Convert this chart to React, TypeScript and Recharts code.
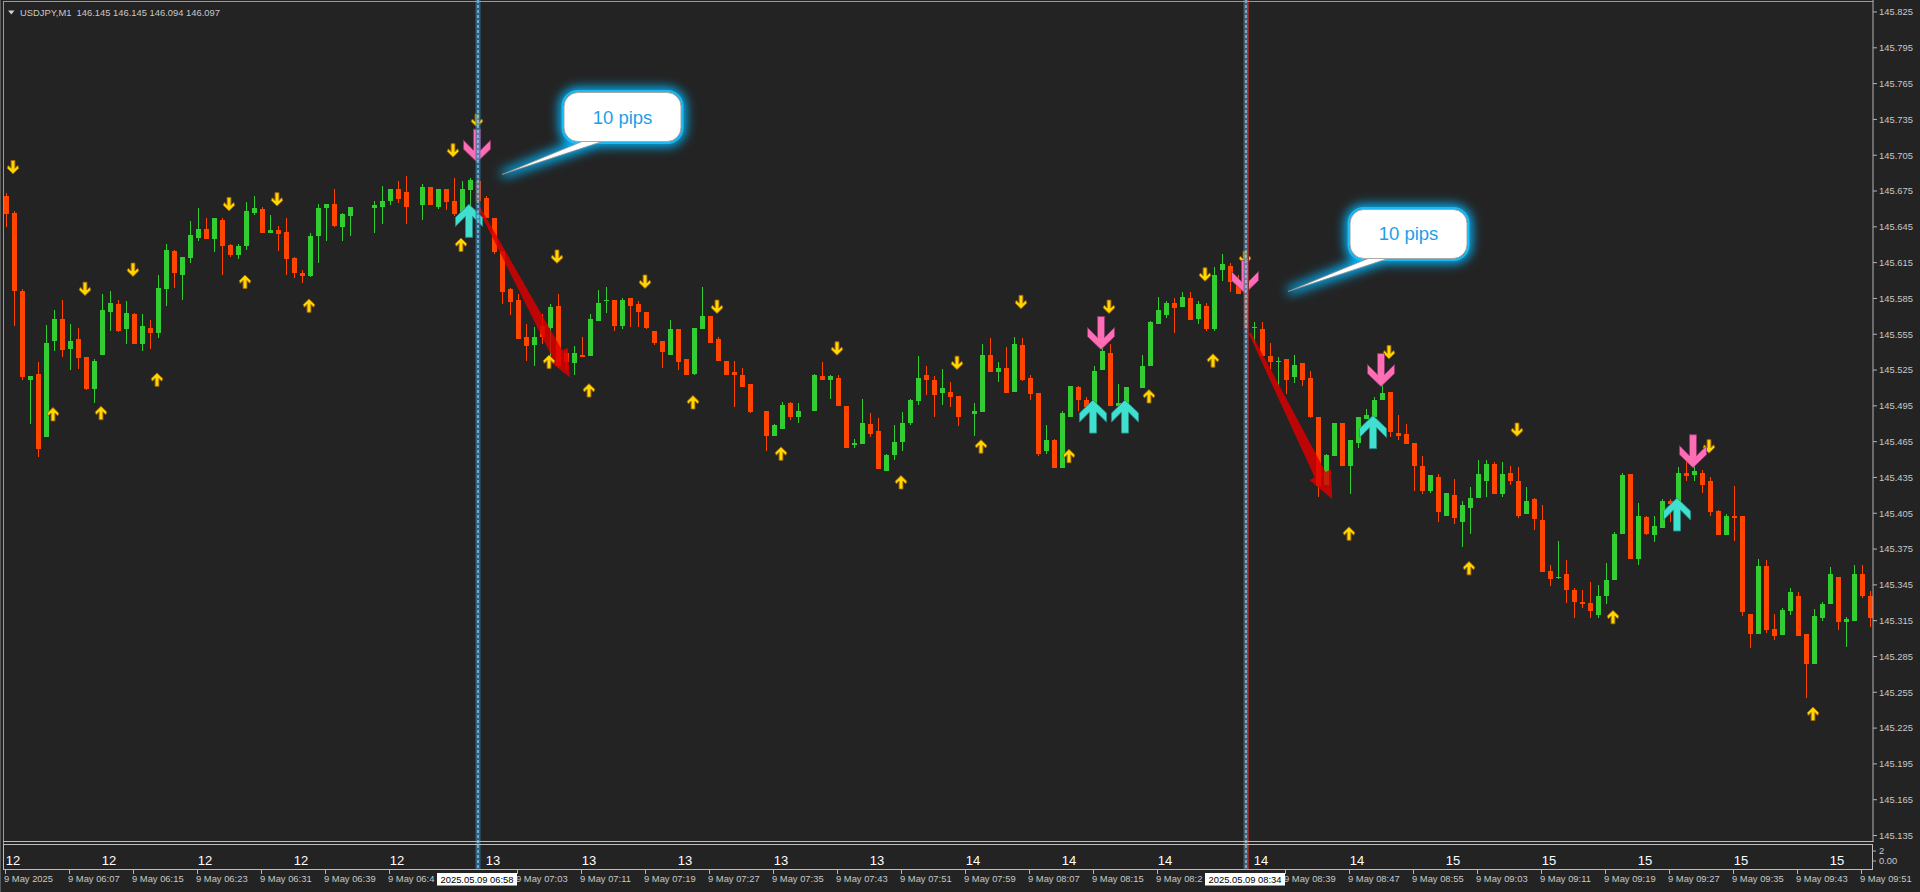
import React from 'react';
import { ComposedChart, Bar, XAxis, YAxis, Scatter, ReferenceLine } from 'recharts';

const FONT = '"Liberation Sans", Arial, sans-serif';
const NARROW = '"Liberation Sans Narrow", "Liberation Sans", Arial, sans-serif';
const BG = '#232323';
const BULL = '#32CD32';
const BEAR = '#FF4500';
const AXIS = '#b4b4b4';
const TXT = '#c8c8c8';

const HEADER_SYMBOL = 'USDJPY,M1';
const HEADER_PRICES = '146.145 146.145 146.094 146.097';

// one-minute bars, 9 May 2025 05:59 .. 09:52
const FIRST_MINUTE = 5 * 60 + 59;
const BAR_COUNT = 234;
const times: string[] = Array.from({ length: BAR_COUNT }, (_, k) => {
  const m = FIRST_MINUTE + k;
  return String(Math.floor(m / 60)).padStart(2, '0') + ':' + String(m % 60).padStart(2, '0');
});

const opens: (number | null)[] = [
  145.671,145.657,145.591,145.517,145.522,145.469,145.549,145.568,145.543,145.551,
  145.536,145.509,145.538,145.574,145.580,145.559,145.572,145.547,145.560,145.556,
  145.593,145.625,145.605,145.619,145.636,145.643,145.635,145.651,145.630,145.621,
  145.629,145.657,145.660,145.640,145.642,145.641,145.619,145.606,145.604,145.637,
  145.661,145.664,145.645,145.654,null,null,145.661,145.662,145.667,145.677,
  145.674,null,145.663,145.678,145.662,145.677,145.667,145.656,145.676,145.683,
  145.669,145.652,145.625,145.593,145.584,145.553,145.546,145.562,145.560,145.579,
  145.539,145.531,145.538,145.537,145.566,145.583,145.584,145.562,145.585,145.580,
  145.574,145.558,145.549,145.538,145.559,145.534,145.522,145.559,145.570,145.551,
  145.533,145.523,145.521,145.513,null,145.491,145.470,145.476,145.497,145.486,
  null,145.491,145.520,145.517,145.518,145.495,145.462,145.463,145.480,145.474,
  145.440,145.454,145.465,145.481,145.499,145.521,145.517,145.506,145.507,145.503,
  null,145.488,145.490,145.538,145.523,145.527,145.507,145.546,145.518,145.506,
  145.457,145.466,145.443,145.486,145.511,145.500,145.494,145.525,145.539,145.495,
  145.496,null,145.510,145.528,145.564,145.571,145.581,145.578,145.585,145.568,
  145.579,145.559,145.609,145.612,145.600,145.590,145.560,145.559,145.537,145.532,
  145.534,145.519,145.531,145.518,145.486,145.429,145.453,145.481,145.445,145.464,
  145.484,145.486,145.500,145.507,145.472,145.471,145.464,145.445,145.424,145.435,
  145.403,145.420,145.398,145.409,145.418,145.432,145.446,145.421,145.439,145.432,
  145.404,145.417,145.399,145.357,145.351,145.354,145.341,145.331,145.330,145.320,
  145.336,145.349,145.388,145.438,145.367,145.402,145.387,145.393,145.415,145.413,
  145.439,145.437,145.439,145.432,145.407,145.387,145.403,145.403,145.321,145.304,
  145.361,145.308,145.303,145.323,145.336,145.304,145.279,145.317,145.329,145.352,
  145.314,145.315,145.354,145.336,
];

const highs: (number | null)[] = [
  145.673,145.658,145.593,145.520,145.532,145.563,145.575,145.584,145.564,145.560,
  145.536,145.534,145.589,145.591,145.584,145.583,145.573,145.572,145.567,145.605,
  145.631,145.626,145.620,145.650,145.661,145.652,145.652,145.652,145.631,145.631,
  145.666,145.671,145.662,145.655,145.646,145.652,145.620,145.609,145.640,145.664,
  145.664,145.677,145.657,145.662,null,null,145.667,145.679,145.677,145.683,
  145.688,null,145.681,145.678,145.677,145.677,145.686,145.683,145.686,145.686,
  145.671,145.652,145.625,145.594,145.589,145.564,145.561,145.572,145.580,145.589,
  145.542,145.545,145.553,145.572,145.592,145.595,145.584,145.585,145.585,145.583,
  145.574,145.558,145.549,145.567,145.559,145.534,145.560,145.595,145.570,145.553,
  145.533,145.533,145.527,145.513,null,145.491,145.480,145.498,145.498,145.497,
  null,145.522,145.532,145.521,145.521,145.495,145.467,145.501,145.489,145.485,
  145.455,145.479,145.490,145.501,145.537,145.528,145.520,145.526,145.515,145.503,
  null,145.497,145.547,145.552,145.532,145.544,145.553,145.552,145.521,145.506,
  145.479,145.467,145.491,145.512,145.512,145.502,145.528,145.548,145.547,145.513,
  145.511,null,145.538,145.566,145.586,145.583,145.585,145.590,145.590,145.583,
  145.581,145.611,145.622,145.615,145.605,145.592,145.565,145.565,145.548,145.536,
  145.534,145.538,145.531,145.524,145.486,145.455,145.481,145.481,145.466,145.486,
  145.492,145.502,145.517,145.507,145.487,145.480,145.464,145.453,145.437,145.438,
  145.422,145.434,145.415,145.427,145.450,145.450,145.448,145.448,145.445,145.444,
  145.427,145.418,145.412,145.362,145.382,145.366,145.342,145.341,145.347,145.345,
  145.363,145.389,145.439,145.438,145.414,145.403,145.403,145.417,145.417,145.444,
  145.449,145.449,145.441,145.435,145.408,145.404,145.428,145.403,145.321,145.367,
  145.366,145.321,145.326,145.342,145.339,145.304,145.325,145.331,145.360,145.352,
  145.318,145.362,145.362,145.340,
];

const lows: (number | null)[] = [
  145.645,145.562,145.517,145.480,145.452,145.469,145.541,145.536,145.525,145.526,
  145.508,145.497,145.538,145.558,145.557,145.547,145.547,145.541,145.543,145.552,
  145.579,145.594,145.584,145.615,145.633,145.635,145.624,145.605,145.620,145.618,
  145.626,145.655,145.640,145.640,145.625,145.605,145.602,145.598,145.603,145.615,
  145.633,145.645,145.633,145.637,null,null,145.640,145.647,145.663,145.665,
  145.647,null,145.651,145.663,145.660,145.659,145.654,145.654,145.657,145.665,
  145.652,145.622,145.580,145.571,145.551,145.533,145.528,145.547,145.528,145.527,
  145.525,145.521,145.536,145.537,145.566,145.573,145.558,145.559,145.561,145.561,
  145.559,145.546,145.527,145.538,145.525,145.521,145.521,145.559,145.548,145.533,
  145.521,145.494,145.511,145.489,null,145.457,145.470,145.476,145.483,145.481,
  null,145.491,145.517,145.501,145.495,145.460,145.460,145.463,145.469,145.442,
  145.440,145.450,145.457,145.479,145.496,145.504,145.486,145.496,145.494,145.478,
  null,145.470,145.490,145.523,145.515,145.506,145.507,145.516,145.500,145.453,
  145.455,145.443,145.443,145.486,145.491,145.493,145.494,145.525,145.495,145.495,
  145.496,null,145.510,145.528,145.564,145.569,145.556,145.578,145.567,145.564,
  145.558,145.558,145.600,145.590,145.589,145.559,145.548,145.537,145.526,145.512,
  145.505,145.514,145.512,145.485,145.419,145.429,145.453,145.445,145.421,145.460,
  145.484,145.480,145.500,145.469,145.466,145.463,145.424,145.421,145.422,145.398,
  145.403,145.396,145.377,145.388,145.418,145.419,145.421,145.419,145.429,145.401,
  145.404,145.391,145.356,145.344,145.350,145.330,145.317,145.326,145.317,145.317,
  145.329,145.349,145.388,145.367,145.362,145.387,145.381,145.393,145.398,145.413,
  145.432,145.432,145.422,145.403,145.387,145.387,145.382,145.319,145.292,145.304,
  145.305,145.299,145.303,145.320,145.302,145.250,145.279,145.315,145.329,145.307,
  145.293,145.315,145.334,145.310,
];

const closes: (number | null)[] = [
  145.656,145.591,145.519,145.520,145.459,145.548,145.568,145.542,145.549,145.535,
  145.509,145.533,145.575,145.581,145.558,145.573,145.547,145.562,145.556,145.594,
  145.626,145.606,145.620,145.638,145.643,145.635,145.652,145.629,145.621,145.629,
  145.658,145.661,145.640,145.642,145.639,145.618,145.606,145.604,145.637,145.661,
  145.664,145.646,145.656,145.662,null,null,145.663,145.667,145.677,145.668,
  145.662,null,145.678,145.663,145.677,145.666,145.656,145.677,145.684,145.667,
  145.652,145.624,145.590,145.582,145.551,145.545,145.553,145.553,145.578,145.528,
  145.532,145.539,145.536,145.568,145.581,145.584,145.562,145.584,145.579,145.574,
  145.560,145.548,145.540,145.559,145.532,145.521,145.560,145.570,145.548,145.533,
  145.521,145.521,145.511,145.490,null,145.470,145.479,145.496,145.486,145.491,
  null,145.521,145.517,145.520,145.495,145.460,145.464,145.481,145.471,145.442,
  145.454,145.465,145.481,145.500,145.518,145.517,145.504,145.510,145.502,145.486,
  null,145.491,145.538,145.523,145.527,145.506,145.547,145.517,145.505,145.455,
  145.466,145.443,145.489,145.512,145.500,145.494,145.524,145.541,145.495,145.497,
  145.511,null,145.528,145.565,145.575,145.581,145.577,145.586,145.567,145.580,
  145.559,145.605,145.614,145.599,145.589,145.560,145.561,145.537,145.532,145.533,
  145.517,145.529,145.517,145.486,145.428,145.454,145.481,145.445,145.466,145.486,
  145.487,145.500,145.506,145.473,145.470,145.463,145.445,145.424,145.437,145.406,
  145.422,145.401,145.412,145.418,145.438,145.446,145.421,145.438,145.432,145.403,
  145.415,145.400,145.356,145.350,145.352,145.341,145.331,145.329,145.323,145.336,
  145.349,145.388,145.437,145.367,145.403,145.388,145.394,145.415,145.413,145.439,
  145.436,145.440,145.429,145.406,145.387,145.403,145.401,145.322,145.304,145.361,
  145.307,145.302,145.324,145.339,145.302,145.279,145.319,145.329,145.354,145.314,
  145.316,145.354,145.336,145.317,
];

// signal arrows: [bar index, price]
const smallDown: [number, number][] = [
  [1,145.695],[10,145.593],[16,145.609],[28,145.664],[34,145.668],[56,145.709],[59,145.734],
  [69,145.620],[80,145.599],[89,145.578],[104,145.543],[119,145.531],[127,145.582],[138,145.578],
  [150,145.605],[155,145.619],[173,145.540],[189,145.475],[213,145.461],
];
const smallUp: [number, number][] = [
  [6,145.488],[12,145.489],[19,145.517],[30,145.599],[38,145.579],[57,145.630],[68,145.532],
  [73,145.508],[86,145.498],[97,145.455],[112,145.431],[122,145.461],[133,145.453],[143,145.503],
  [151,145.533],[168,145.388],[183,145.359],[201,145.318],[226,145.237],
];
const bigDown: [number, number][] = [
  [59,145.713],[137,145.556],[155,145.603],[172,145.525],[211,145.457],
];
const bigUp: [number, number][] = [
  [58,145.650],[136,145.486],[140,145.486],[171,145.473],[209,145.404],
];
// red move arrows: [startIndex, startPrice, endIndex, endPrice]
const moveArrows: [number, number, number, number][] = [
  [59.1, 145.663, 70.6, 145.519],
  [155.6, 145.556, 165.9, 145.417],
];
// callouts: [index, price, text]
const callouts: [number, number, string][] = [
  [77.19, 145.737, '10 pips'],
  [175.44, 145.639, '10 pips'],
];
// vertical markers
const markerIdx = [59, 155];
const markerText = ['2025.05.09 06:58', '2025.05.09 08:34'];

const priceTicks = [
  145.135,145.165,145.195,145.225,145.255,145.285,145.315,145.345,145.375,145.405,145.435,145.465,
  145.495,145.525,145.555,145.585,145.615,145.645,145.675,145.705,145.735,145.765,145.795,145.825,
];
const Y_MIN = 145.129566;
const Y_MAX = 145.835054;

// time-axis labels (labels partly hidden behind the marker boxes are shown as they appear)
const timeLabelIdx = [0,8,16,24,32,40,48,64,72,80,88,96,104,112,120,128,136,144,160,168,176,184,192,200,208,216,224,232];
const timeLabelText = [
  '9 May 2025','9 May 06:07','9 May 06:15','9 May 06:23','9 May 06:31','9 May 06:39','9 May 06:4',
  '9 May 07:03','9 May 07:11','9 May 07:19','9 May 07:27','9 May 07:35','9 May 07:43','9 May 07:51','9 May 07:59',
  '9 May 08:07','9 May 08:15','9 May 08:2','9 May 08:39','9 May 08:47','9 May 08:55','9 May 09:03',
  '9 May 09:11','9 May 09:19','9 May 09:27','9 May 09:35','9 May 09:43','9 May 09:51',
];
const hourTagIdx = [1,13,25,37,49,61,73,85,97,109,121,133,145,157,169,181,193,205,217,229];
const hourTagText = ['12','12','12','12','12','13','13','13','13','13','14','14','14','14','14','15','15','15','15','15'];

const candles = times.map((t, i) => ({ t, i, o: opens[i], h: highs[i], l: lows[i], c: closes[i] }));
const toPts = (arr: [number, number][]) => arr.map(([i, p]) => ({ i, p }));
const calloutData = callouts.map(([i, p, label]) => ({ i, p, label }));

const timeMap: Record<string, string> = {};
timeLabelIdx.forEach((k, n) => { timeMap[times[k]] = timeLabelText[n]; });
const hourMap: Record<string, string> = {};
hourTagIdx.forEach((k, n) => { hourMap[times[k]] = hourTagText[n]; });
const markMap: Record<string, string> = {};
markerIdx.forEach((k, n) => { markMap[times[k]] = markerText[n]; });
const xTicks = [
  ...timeLabelIdx.map((k) => times[k]),
  ...hourTagIdx.map((k) => times[k]),
  ...markerIdx.map((k) => times[k]),
];

const rangeOf = (d: any) => (d.h == null ? null : [d.l, d.h]);

function Candle(props: any) {
  const { x, y, width, height, payload } = props;
  if (!payload || payload.o == null || !isFinite(y)) return null;
  const { o, h, l, c } = payload;
  const color = c >= o ? BULL : BEAR;
  const range = h - l;
  const k = range > 0 ? height / range : 0;
  const yOf = (v: number) => y + (h - v) * k;
  const cx = Math.round(x + width / 2);
  const top = Math.round(yOf(Math.max(o, c)));
  const bot = Math.round(yOf(Math.min(o, c)));
  const wTop = Math.round(y);
  const wBot = Math.round(y + height);
  return (
    <g>
      <rect x={cx} y={wTop} width={1} height={Math.max(1, wBot - wTop)} fill={color} />
      <rect x={cx - 2} y={top} width={5} height={Math.max(1, bot - top)} fill={color} />
    </g>
  );
}

const BIG_ARROW = [[-3.5,-16.5],[3.5,-16.5],[3.5,4.5],[13.5,-5.5],[13.5,3.5],[0,16.5],[-13.5,3.5],[-13.5,-5.5],[-3.5,4.5]];
const SMALL_ARROW = [[-1.9,-6.7],[1.9,-6.7],[1.9,1.2],[4.7,-1.6],[5.8,1.0],[0,6.7],[-5.8,1.0],[-4.7,-1.6],[-1.9,1.2]];
const pts = (shape: number[][], cx: number, cy: number, dir: number) =>
  shape.map(([px, py]) => `${cx + px},${cy + py * dir}`).join(' ');

const makeArrow = (shape: number[][], dir: number, fill: string, stroke: string) => (p: any) => {
  if (!isFinite(p.cx) || !isFinite(p.cy)) return null;
  return <polygon points={pts(shape, p.cx, p.cy, dir)} fill={fill} stroke={stroke} strokeWidth={0.9} strokeLinejoin="round" />;
};

function MoveArrow(p: any) {
  const { x1, y1, x2, y2 } = p;
  if (![x1, y1, x2, y2].every((v) => isFinite(v))) return null;
  const dx = x2 - x1, dy = y2 - y1, len = Math.hypot(dx, dy);
  const ux = dx / len, uy = dy / len, nx = -uy, ny = ux;
  const headLen = 27, w0 = 1.2, w1 = 6, hw = 12;
  const bx = x2 - ux * headLen, by = y2 - uy * headLen;
  const P = [
    [x1 + nx * w0, y1 + ny * w0],
    [bx + nx * w1, by + ny * w1],
    [bx + nx * hw, by + ny * hw],
    [x2, y2],
    [bx - nx * hw, by - ny * hw],
    [bx - nx * w1, by - ny * w1],
    [x1 - nx * w0, y1 - ny * w0],
  ];
  return <polygon points={P.map((q) => q.join(',')).join(' ')} fill="#dc0000" fillOpacity={0.84} />;
}

const makeMarker = (red: boolean) => (p: any) => {
  const { x1, y1, y2 } = p;
  if (!isFinite(x1) || !isFinite(y1) || !isFinite(y2)) return null;
  const x = Math.round(x1);
  const top = Math.min(y1, y2);
  const bottom = Math.max(y1, y2) + 28;
  return (
    <g>
      <rect x={x - 1.5} y={top} width={5} height={bottom - top} fill={red ? '#4f7894' : '#2e7cab'} fillOpacity={0.72} />
      <line x1={x + 1} x2={x + 1} y1={top} y2={bottom} stroke="#c4e6fa" strokeWidth={1} strokeDasharray="3 2" />
      {red && <line x1={x + 3.5} x2={x + 3.5} y1={top} y2={bottom} stroke="#8a2a2a" strokeWidth={1} />}
    </g>
  );
};

function Callout(p: any) {
  const { cx, cy, payload } = p;
  if (!isFinite(cx) || !isFinite(cy)) return null;
  const id = `glow${Math.round(cx)}`;
  const bx = cx - 58.5, by = cy - 24.5, bw = 117, bh = 49;
  const ptr = `${cx - 34.5},${cy + 22} ${cx - 12.5},${cy + 22} ${cx - 120.5},${cy + 57.5}`;
  return (
    <g>
      <defs>
        <filter id={id} x="-60%" y="-100%" width="220%" height="300%">
          <feGaussianBlur stdDeviation="5.5" />
        </filter>
      </defs>
      <g filter={`url(#${id})`}>
        <rect x={bx} y={by} width={bw} height={bh} rx={14} fill="#00b8ff" stroke="#00b8ff" strokeWidth={10} />
        <polygon points={ptr} fill="#00b8ff" stroke="#00b8ff" strokeWidth={7} />
      </g>
      <rect x={bx - 1.5} y={by - 1.5} width={bw + 3} height={bh + 3} rx={15} fill="none" stroke="#20c4ff" strokeWidth={2} strokeOpacity={0.8} />
      <polygon points={ptr} fill="#ffffff" stroke="#8c8c8c" strokeWidth={0.8} />
      <rect x={bx} y={by} width={bw} height={bh} rx={14} fill="#ffffff" stroke="#a8a8a8" strokeWidth={1} />
      <text x={cx} y={cy + 6.5} textAnchor="middle" fontSize={18.5} fontFamily={FONT} fill="#1ea0e6">{payload.label}</text>
    </g>
  );
}

function XTick(props: any) {
  const { x, y, payload } = props;
  const key = payload && payload.value;
  if (!isFinite(x)) return null;
  if (markMap[key]) {
    return (
      <g>
        <rect x={x - 40} y={y + 31} width={80} height={12.5} fill="#ffffff" />
        <text x={x} y={y + 40.5} textAnchor="middle" fontSize={9.4} fontFamily={FONT} fill="#000000">{markMap[key]}</text>
      </g>
    );
  }
  if (hourMap[key]) {
    return (
      <text x={x} y={y + 22.7} textAnchor="middle" fontSize={13} fontFamily={NARROW} fill="#ffffff">{hourMap[key]}</text>
    );
  }
  if (timeMap[key]) {
    return (
      <g>
        <line x1={x + 0.5} x2={x + 0.5} y1={y + 28} y2={y + 32} stroke={AXIS} strokeWidth={1} />
        <text x={x - 1} y={y + 40} fontSize={9.4} fontFamily={FONT} fill={TXT}>{timeMap[key]}</text>
      </g>
    );
  }
  return null;
}

export default function App() {
  return (
    <div style={{ position: 'absolute', left: 0, top: 0, width: 1920, height: 892, background: BG, overflow: 'hidden' }}>
      <ComposedChart
        width={1920}
        height={892}
        data={candles}
        margin={{ top: 0, right: 0, bottom: 0, left: 1 }}
        style={{ position: 'absolute', left: 0, top: 0 }}
      >
        <XAxis
          dataKey="t"
          type="category"
          height={50}
          ticks={xTicks}
          interval={0}
          tickLine={false}
          axisLine={false}
          tickSize={0}
          tickMargin={0}
          tick={XTick}
        />
        <XAxis xAxisId="n" dataKey="i" type="number" domain={[-0.5, 233.5]} allowDataOverflow hide />
        <YAxis
          orientation="right"
          type="number"
          width={47}
          domain={[Y_MIN, Y_MAX]}
          allowDataOverflow
          ticks={priceTicks}
          interval={0}
          tickFormatter={(v: number) => v.toFixed(3)}
          tick={{ fill: TXT, fontSize: 9.4, fontFamily: FONT }}
          tickSize={4}
          tickMargin={2}
          axisLine={{ stroke: AXIS }}
          tickLine={{ stroke: AXIS }}
        />
        <Bar dataKey={rangeOf} barSize={5} shape={Candle} isAnimationActive={false} zIndex={300} />
        {moveArrows.map(([a, b, c, d], n) => (
          <ReferenceLine
            key={`mv${n}`}
            xAxisId="n"
            segment={[{ x: a, y: b }, { x: c, y: d }]}
            shape={MoveArrow}
            zIndex={350}
          />
        ))}
        <Scatter xAxisId="n" data={toPts(smallDown)} dataKey="p" shape={makeArrow(SMALL_ARROW, 1, '#FFD700', '#a86a00')} isAnimationActive={false} zIndex={600} />
        <Scatter xAxisId="n" data={toPts(smallUp)} dataKey="p" shape={makeArrow(SMALL_ARROW, -1, '#FFD700', '#a86a00')} isAnimationActive={false} zIndex={600} />
        <Scatter xAxisId="n" data={toPts(bigDown)} dataKey="p" shape={makeArrow(BIG_ARROW, 1, '#FF6EB4', '#8e3a70')} isAnimationActive={false} zIndex={610} />
        <Scatter xAxisId="n" data={toPts(bigUp)} dataKey="p" shape={makeArrow(BIG_ARROW, -1, '#40E0D0', '#2a8f8a')} isAnimationActive={false} zIndex={610} />
        {markerIdx.map((k, n) => (
          <ReferenceLine key={`mk${n}`} xAxisId="n" x={k} shape={makeMarker(n === 1)} zIndex={700} />
        ))}
        <Scatter xAxisId="n" data={calloutData} dataKey="p" shape={Callout} isAnimationActive={false} zIndex={800} />
      </ComposedChart>
      <svg width={1920} height={892} style={{ position: 'absolute', left: 0, top: 0, pointerEvents: 'none' }}>
        <line x1={0.5} x2={0.5} y1={0} y2={892} stroke="#5a5a5a" />
        <line x1={3.5} x2={3.5} y1={1.5} y2={870} stroke="#9a9a9a" />
        <line x1={3} x2={1873.5} y1={1.5} y2={1.5} stroke="#9a9a9a" />
        <line x1={3} x2={1873.5} y1={841.5} y2={841.5} stroke="#bdbdbd" />
        <rect x={3.5} y={844.5} width={1869} height={25} fill="none" stroke="#bdbdbd" />
        <line x1={1872.5} x2={1876} y1={851} y2={851} stroke={AXIS} />
        <line x1={1872.5} x2={1876} y1={861} y2={861} stroke={AXIS} />
        <text x={1879} y={854.3} fontSize={9.4} fontFamily={FONT} fill={TXT}>2</text>
        <text x={1879} y={864.3} fontSize={9.4} fontFamily={FONT} fill={TXT}>0.00</text>
        <polygon points="8,10.5 14.5,10.5 11.25,14.5" fill="#d0d0d0" />
        <text x={20} y={16} fontSize={9.4} fontFamily={FONT} fill={TXT} style={{ whiteSpace: 'pre' }}>
          {HEADER_SYMBOL + '  ' + HEADER_PRICES}
        </text>
      </svg>
    </div>
  );
}
